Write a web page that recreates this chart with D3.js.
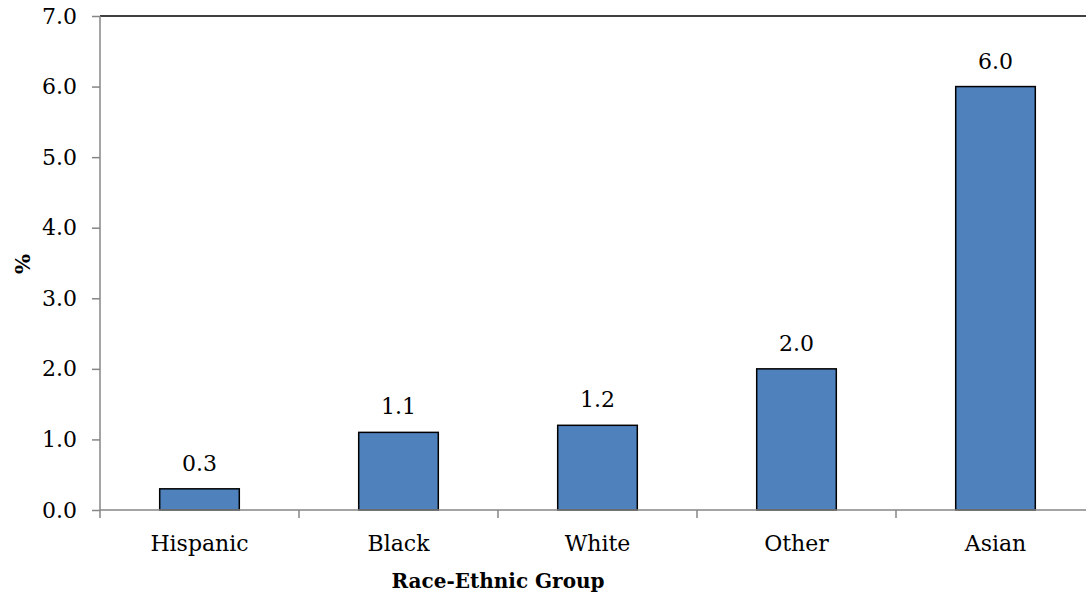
<!DOCTYPE html>
<html>
<head>
<meta charset="utf-8">
<script src="https://cdn.jsdelivr.net/npm/d3@7"></script>
<style>
  html, body { margin: 0; padding: 0; background: #fff; }
  svg { display: block; }
</style>
</head>
<body>
<svg id="chart" width="1086" height="595"></svg>
<script>
// Share of each race-ethnic group (%)
const categories = ["Hispanic", "Black", "White", "Other", "Asian"];
const values = [0.3, 1.1, 1.2, 2.0, 6.0];
const yTicks = [0, 1, 2, 3, 4, 5, 6, 7];
const xTitle = "Race-Ethnic Group";
const yTitle = "%";

const serif = "'DejaVu Serif', 'Noto Serif', serif";
const svg = d3.select("#chart").style("font-family", serif);
const plotLeft = 100, plotRight = 1095, plotTop = 16, plotBottom = 510;
const axisGray = "#868686";
const labelSize = 22;

const y = d3.scaleLinear().domain([0, 7]).range([plotBottom, plotTop]);
const x = d3.scaleBand().domain(categories).range([plotLeft, plotRight])
  .paddingInner(0.6).paddingOuter(0.3);
const slots = d3.scaleBand().domain(categories).range([plotLeft, plotRight]);

// top frame line
svg.append("line")
  .attr("x1", plotLeft).attr("x2", 1086)
  .attr("y1", y(7)).attr("y2", y(7))
  .attr("stroke", "#000").attr("stroke-width", 1.5);

// y axis
const yAxis = svg.append("g")
  .attr("transform", `translate(${plotLeft},0)`)
  .call(d3.axisLeft(y).tickValues(yTicks).tickSize(8).tickPadding(15)
    .tickFormat(d3.format(".1f")));
yAxis.attr("font-family", null).attr("font-size", null);
yAxis.select(".domain").remove();
yAxis.selectAll(".tick line").attr("stroke", axisGray).attr("stroke-width", 1.5);
yAxis.selectAll(".tick text")
  .style("font-family", serif)
  .attr("font-size", labelSize).attr("fill", "#000");
svg.append("line")
  .attr("x1", plotLeft).attr("x2", plotLeft)
  .attr("y1", y(7)).attr("y2", y(0))
  .attr("stroke", axisGray).attr("stroke-width", 1.5);

// bars
svg.append("g").selectAll("rect")
  .data(values)
  .join("rect")
  .attr("x", (d, i) => x(categories[i]))
  .attr("width", x.bandwidth())
  .attr("y", d => y(d))
  .attr("height", d => y(0) - y(d))
  .attr("fill", "#4f81bd")
  .attr("stroke", "#000")
  .attr("stroke-width", 1.5);

// value labels
svg.append("g").selectAll("text")
  .data(values)
  .join("text")
  .attr("x", (d, i) => x(categories[i]) + x.bandwidth() / 2)
  .attr("y", d => y(d) - 18)
  .attr("text-anchor", "middle")
  .style("font-family", serif)
  .attr("font-size", labelSize)
  .text(d3.format(".1f"));

// x axis line and category ticks
svg.append("line")
  .attr("x1", plotLeft).attr("x2", 1086)
  .attr("y1", y(0)).attr("y2", y(0))
  .attr("stroke", axisGray).attr("stroke-width", 1.5);
svg.append("g").selectAll("line")
  .data(categories)
  .join("line")
  .attr("x1", d => slots(d)).attr("x2", d => slots(d))
  .attr("y1", y(0)).attr("y2", y(0) + 8)
  .attr("stroke", axisGray).attr("stroke-width", 1.5);

// category labels
svg.append("g").selectAll("text")
  .data(categories)
  .join("text")
  .attr("x", d => x(d) + x.bandwidth() / 2)
  .attr("y", 551)
  .attr("text-anchor", "middle")
  .style("font-family", serif)
  .attr("font-size", labelSize)
  .text(d => d);

// axis titles
svg.append("text")
  .attr("x", 498).attr("y", 588)
  .attr("text-anchor", "middle")
  .style("font-family", serif)
  .attr("font-size", 20).attr("font-weight", "bold")
  .text(xTitle);
svg.append("text")
  .attr("transform", "translate(30,264) rotate(-90)")
  .attr("text-anchor", "middle")
  .style("font-family", serif)
  .attr("font-size", 21).attr("font-weight", "bold")
  .text(yTitle);
</script>
</body>
</html>
